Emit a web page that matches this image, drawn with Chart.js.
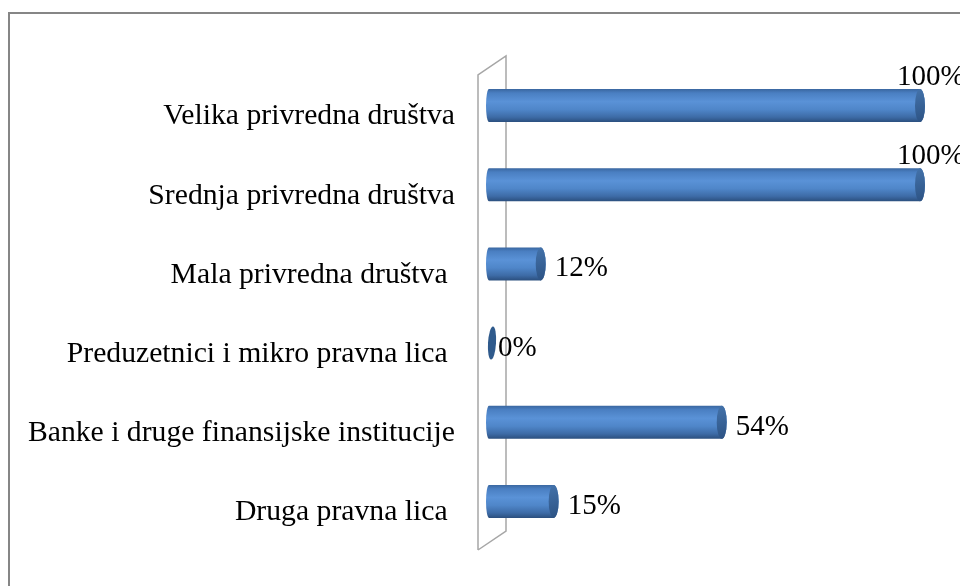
<!DOCTYPE html>
<html>
<head>
<meta charset="utf-8">
<style>
html,body{margin:0;padding:0;background:#fff;overflow:hidden;}
canvas{display:block;}
</style>
<script src="https://cdn.jsdelivr.net/npm/chart.js@4/dist/chart.umd.min.js"></script>
</head>
<body>
<canvas id="c" width="960" height="586"></canvas>
<script>
const categories = [
  'Velika privredna društva',
  'Srednja privredna društva',
  'Mala privredna društva ',
  'Preduzetnici i mikro pravna lica ',
  'Banke i druge finansijske institucije',
  'Druga pravna lica '
];
const values = [100, 100, 12, 0, 54, 15];
const valueLabels = ['100%', '100%', '12%', '0%', '54%', '15%'];

const FONT = '"Liberation Serif", "Times New Roman", serif';

const framePlugin = {
  id: 'frame',
  beforeDraw(chart) {
    const ctx = chart.ctx;
    ctx.save();
    ctx.fillStyle = '#fff';
    ctx.fillRect(0, 0, chart.width, chart.height);
    ctx.strokeStyle = '#868686';
    ctx.lineWidth = 2;
    ctx.beginPath();
    ctx.moveTo(9, chart.height + 5);
    ctx.lineTo(9, 13);
    ctx.lineTo(chart.width + 5, 13);
    ctx.stroke();
    ctx.restore();
  },
  beforeDatasetsDraw(chart) {
    // 3D back wall
    const ctx = chart.ctx;
    const a = chart.chartArea;
    const x0 = chart.scales.x.getPixelForValue(0);
    const fx = x0 - 11, bx = x0 + 17;
    const ft = a.top + 9, bt = a.top - 10;
    const fb = a.bottom + 9, bb = a.bottom - 10;
    ctx.save();
    ctx.strokeStyle = '#a6a6a6';
    ctx.lineWidth = 1.5;
    ctx.beginPath();
    ctx.moveTo(fx, fb);
    ctx.lineTo(fx, ft);
    ctx.lineTo(bx, bt);
    ctx.lineTo(bx, bb);
    ctx.lineTo(fx, fb);
    ctx.stroke();
    ctx.restore();
  },
  afterDatasetsDraw(chart) {
    const ctx = chart.ctx;
    const meta = chart.getDatasetMeta(0);
    const rx = 5;
    meta.data.forEach((el, i) => {
      const h = el.height;
      const top = el.y - h / 2, bot = el.y + h / 2;
      const x0 = el.base;
      let x1 = el.x;
      ctx.save();
      const g = ctx.createLinearGradient(0, top, 0, bot);
      g.addColorStop(0, '#3a67a0');
      g.addColorStop(0.12, '#4a7fc2');
      g.addColorStop(0.38, '#5a92d7');
      g.addColorStop(0.62, '#4f86c9');
      g.addColorStop(0.85, '#3d6ba6');
      g.addColorStop(1, '#2b4f7e');
      if (x1 - x0 > 2) {
        ctx.beginPath();
        ctx.moveTo(x0, top);
        ctx.lineTo(x1, top);
        ctx.ellipse(x1, el.y, rx, h / 2, 0, -Math.PI / 2, Math.PI / 2, false);
        ctx.lineTo(x0, bot);
        ctx.ellipse(x0, el.y, 3, h / 2, 0, Math.PI / 2, Math.PI * 1.5, false);
        ctx.closePath();
        ctx.fillStyle = g;
        ctx.fill();
        // right cap
        const g2 = ctx.createLinearGradient(x1 - rx, top, x1 + rx, bot);
        g2.addColorStop(0, '#4473ab');
        g2.addColorStop(1, '#2c5283');
        ctx.beginPath();
        ctx.ellipse(x1, el.y, rx, h / 2, 0, 0, Math.PI * 2);
        ctx.fillStyle = g2;
        ctx.fill();
      } else {
        x1 = x0 + 3;
        ctx.beginPath();
        ctx.ellipse(x1, el.y, 4, h / 2, 0.06, 0, Math.PI * 2);
        ctx.fillStyle = '#2f5a8c';
        ctx.fill();
      }
      // value label
      ctx.font = '29px ' + FONT;
      ctx.fillStyle = '#000';
      ctx.textBaseline = 'alphabetic';
      ctx.textAlign = 'left';
      const txt = valueLabels[i];
      const w = ctx.measureText(txt).width;
      let tx = x1 + rx + 9, ty = el.y + 12.5;
      if (x1 === x0 + 3) tx = x1 + 6;
      if (tx + w > chart.width) {
        tx = x1 + rx - 28;
        ty = el.y - 20.5;
      }
      ctx.fillText(txt, tx, ty);
      ctx.restore();
    });
  }
};

new Chart(document.getElementById('c'), {
  type: 'bar',
  data: {
    labels: categories,
    datasets: [{
      data: values,
      backgroundColor: 'rgba(0,0,0,0)',
      borderWidth: 0,
      barThickness: 33
    }]
  },
  options: {
    indexAxis: 'y',
    responsive: false,
    animation: false,
    devicePixelRatio: 1,
    layout: { padding: { left: 0, right: 40, top: 66, bottom: 45 } },
    plugins: { legend: { display: false }, tooltip: { enabled: false } },
    scales: {
      x: {
        display: false,
        min: 0,
        max: 100
      },
      y: {
        grid: { display: false, drawTicks: false },
        border: { display: false },
        afterFit(scale) {
          scale.width = 489;
          scale.paddingTop = 0;
          scale.paddingBottom = 0;
        },
        ticks: {
          padding: 34,
          labelOffset: 11,
          color: '#000',
          font: { family: FONT, size: 29.7 }
        }
      }
    }
  },
  plugins: [framePlugin]
});
</script>
</body>
</html>
